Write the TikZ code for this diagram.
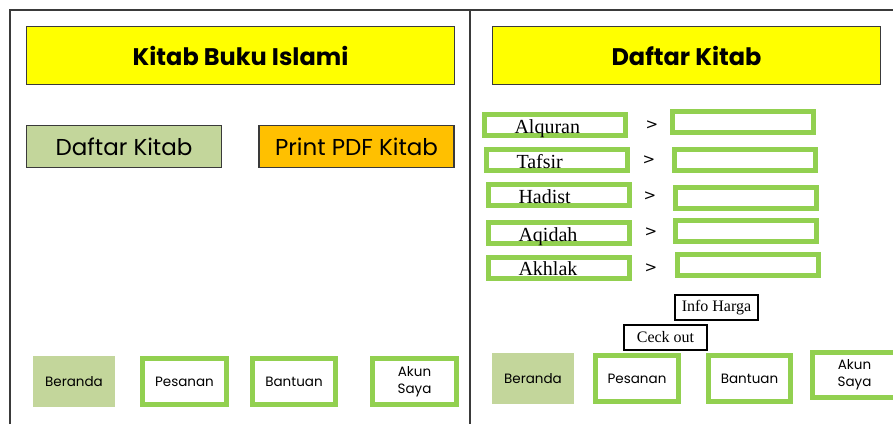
\documentclass[tikz,border=0pt]{standalone}
\usepackage{fontspec}
\setsansfont{Poppins}
\newfontfamily\serifbox{Liberation Serif}
\newfontfamily\panahfont{DejaVu Sans}
\usetikzlibrary{positioning}

\definecolor{judulkuning}{HTML}{FFFF00}
\definecolor{menuhijau}{HTML}{C3D69B}
\definecolor{menuoranye}{HTML}{FFC000}
\definecolor{garishijau}{HTML}{92D050}
\definecolor{garisbingkai}{HTML}{3A3A3A}

\begin{document}
\begin{tikzpicture}[
            x = 1pt, y = -1pt, % pixel like grid, y downwards
            font = \sffamily,
            inner sep = 0pt
        ]

        \tikzstyle{judulbox}=[
            draw = garisbingkai,
            line width = 1.5pt,
            fill = judulkuning,
            minimum height = 58pt,
            font = \sffamily\bfseries\fontsize{24}{26}\selectfont
        ]
        \tikzstyle{menubox}=[
            draw = garisbingkai,
            line width = 1.5pt,
            minimum width = 195pt,
            minimum height = 42pt,
            font = \sffamily\fontsize{23}{25}\selectfont
        ]
        \tikzstyle{navbox}=[
            draw = garishijau,
            line width = 5pt,
            fill = white,
            minimum width = 84pt,
            minimum height = 46pt,
            align = center,
            font = \sffamily\fontsize{13.5}{17}\selectfont
        ]
        \tikzstyle{navaktif}=[
            fill = menuhijau,
            minimum width = 82pt,
            minimum height = 51pt,
            font = \sffamily\fontsize{13.5}{17}\selectfont
        ]
        \tikzstyle{katbox}=[
            draw = garishijau,
            line width = 5pt,
            fill = white,
            text width = 141pt,
            text height = 16pt,
            text depth = 0pt,
            minimum height = 21pt,
            align = left,
            execute at begin node = \hspace*{30pt},
            font = \serifbox\fontsize{20}{20}\selectfont
        ]
        \tikzstyle{isibox}=[
            draw = garishijau,
            line width = 5pt,
            fill = white,
            minimum width = 141pt,
            minimum height = 21pt
        ]
        \tikzstyle{panah}=[
            font = \panahfont\fontsize{15}{15}\selectfont
        ]
        \tikzstyle{kecilbox}=[
            draw = black,
            line width = 1.2pt,
            fill = white,
            minimum width = 83pt,
            minimum height = 25pt,
            font = \serifbox\fontsize{16}{16}\selectfont
        ]

        \useasboundingbox (0,0) rectangle (893,424);
        \clip (0,0) rectangle (893,424);

        % bingkai halaman
        \draw[garisbingkai, line width = 1.5pt] (10,424) -- (10,10) -- (893,10);
        \draw[garisbingkai, line width = 1.5pt] (470,10) -- (470,424);

        % halaman beranda
	\node[judulbox, minimum width = 428pt] (judul) at (240.5,55.5) {Kitab Buku Islami};
	\node[menubox, fill = menuhijau] (daftar) at (124,146.5) {Daftar Kitab};
	\node[menubox, fill = menuoranye] (print) at (356.5,146.5) {Print PDF Kitab};

	\node[navaktif] (beranda) at (74,381.5) {Beranda};
	\node[navbox] (pesanan) at (184.5,381.5) {Pesanan};
	\node[navbox, minimum width = 83pt] (bantuan) at (294,381.5) {Bantuan};
	\node[navbox] (akun) at (414.5,381.5) {Akun\\Saya};

        % halaman daftar kitab
	\node[judulbox, minimum width = 388pt] (judulb) at (686.5,55.5) {Daftar Kitab};

	\node[katbox] (alquran) at (555,125) {Alquran};
	\node[katbox] (tafsir) at (557,160) {Tafsir};
	\node[katbox] (hadist) at (559,195) {Hadist};
	\node[katbox] (aqidah) at (559,233) {Aqidah};
	\node[katbox] (akhlak) at (559,267.5) {Akhlak};

	\node[isibox] (isia) at (743,122) {};
	\node[isibox] (isib) at (745,160) {};
	\node[isibox] (isic) at (746,198) {};
	\node[isibox] (isid) at (746,231) {};
	\node[isibox] (isie) at (748,265) {};

	\node[panah] (pa) at (652,125) {>};
	\node[panah] (pb) at (649,160) {>};
	\node[panah] (pc) at (650,196) {>};
	\node[panah] (pd) at (651,232) {>};
	\node[panah] (pe) at (651,268) {>};

	\node[kecilbox] (harga) at (716.5,307.5) {Info Harga};
	\node[kecilbox] (ceck) at (665.5,337.5) {Ceck out};

	\node[navaktif] (berandab) at (533,378.5) {Beranda};
	\node[navbox, minimum width = 83pt] (pesananb) at (637,378.5) {Pesanan};
	\node[navbox, minimum width = 82pt] (bantuanb) at (749.5,378.5) {Bantuan};
	\node[navbox, minimum height = 45pt] (akunb) at (854.5,375) {Akun\\Saya};

    \end{tikzpicture}
\end{document}
